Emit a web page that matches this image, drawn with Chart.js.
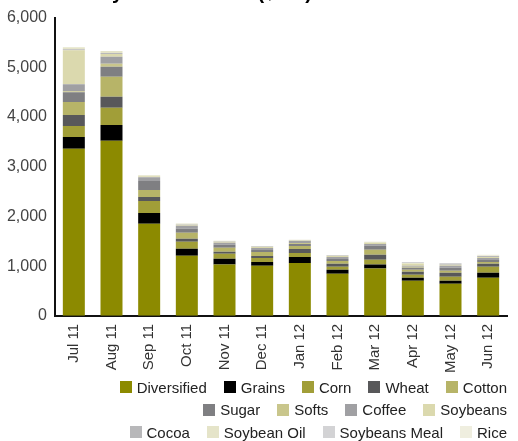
<!DOCTYPE html>
<html>
<head>
<meta charset="utf-8">
<script src="https://cdn.jsdelivr.net/npm/chart.js@4"></script>
<style>
  html, body { margin: 0; padding: 0; background: #fff; }
  #wrap { position: relative; width: 518px; height: 441px; }
  #legend { position: absolute; right: 11px; top: 376px; width: 500px;
            font: 15px 'Liberation Sans', Arial, sans-serif; color: #222; }
  .row { display: flex; justify-content: flex-end; height: 22.5px; align-items: center; }
  .item { display: flex; align-items: center; margin-left: 17px; white-space: nowrap; }
  .box { width: 12px; height: 12px; margin-right: 5px; }
</style>
</head>
<body>
<div id="wrap">
  <canvas id="chart" width="518" height="441"></canvas>
  <div id="legend"></div>
</div>
<script>
const months = ['Jul 11', 'Aug 11', 'Sep 11', 'Oct 11', 'Nov 11', 'Dec 11', 'Jan 12', 'Feb 12', 'Mar 12', 'Apr 12', 'May 12', 'Jun 12'];

const diversified  = [3360, 3520, 1850, 1210, 1030, 1005, 1065, 845, 950, 705, 645, 765];
const grains       = [240, 320, 220, 140, 120, 80, 120, 80, 80, 60, 60, 100];
const corn         = [220, 345, 240, 140, 100, 80, 80, 60, 100, 60, 80, 120];
const wheat        = [220, 220, 80, 60, 40, 40, 80, 60, 100, 60, 80, 60];
const cotton       = [260, 405, 140, 120, 80, 80, 60, 60, 100, 40, 40, 40];
const sugar        = [200, 200, 180, 80, 60, 40, 40, 40, 80, 40, 60, 40];
const softs        = [20, 60, 0, 0, 0, 0, 20, 0, 0, 20, 0, 0];
const coffee       = [140, 140, 80, 60, 40, 40, 40, 40, 35, 20, 40, 40];
const soybeans     = [685, 60, 20, 20, 20, 20, 10, 20, 25, 40, 20, 20];
const cocoa        = [20, 20, 0, 10, 10, 10, 10, 10, 0, 0, 20, 20];
const soybeanOil   = [40, 40, 20, 15, 10, 10, 5, 10, 20, 20, 0, 10];
const soybeansMeal = [0, 0, 0, 0, 0, 0, 0, 0, 0, 20, 20, 0];
const rice         = [0, 0, 0, 0, 0, 0, 0, 0, 0, 0, 0, 15];

const seriesNames = ['Diversified', 'Grains', 'Corn', 'Wheat', 'Cotton', 'Sugar', 'Softs', 'Coffee',
                     'Soybeans', 'Cocoa', 'Soybean Oil', 'Soybeans Meal', 'Rice'];
const seriesData = [diversified, grains, corn, wheat, cotton, sugar, softs, coffee,
                    soybeans, cocoa, soybeanOil, soybeansMeal, rice];
const seriesColors = ['#8c8a00', '#000000', '#a19e38', '#58585a', '#b7b468', '#7f7f82', '#c9c68c',
                      '#a0a0a3', '#dbd9ae', '#b8b8ba', '#e5e4c9', '#d3d3d5', '#efeedf'];

// legend rows as in the picture
const legendRows = [[0, 1, 2, 3, 4], [5, 6, 7, 8], [9, 10, 11, 12]];

const FONT = "'Liberation Sans', Arial, sans-serif";

// clipped title at the very top of the picture
const titlePlugin = {
  id: 'clippedTitle',
  afterDraw(chart) {
    const c = chart.ctx;
    c.save();
    c.font = 'bold 20px ' + FONT;
    c.fillStyle = '#000';
    c.textBaseline = 'alphabetic';
    c.fillText('Commodity Index Assets ($mn)', 13, -1);
    c.restore();
  }
};

const datasets = seriesNames.map((name, i) => ({
  label: name,
  data: seriesData[i],
  backgroundColor: seriesColors[i],
  borderWidth: 0,
  barPercentage: 0.584,
  categoryPercentage: 1.0
}));

new Chart(document.getElementById('chart').getContext('2d'), {
  type: 'bar',
  data: { labels: months, datasets: datasets },
  options: {
    responsive: false,
    animation: false,
    layout: { padding: { top: 8, right: 11, bottom: 60, left: 0 } },
    plugins: {
      legend: { display: false },
      tooltip: { enabled: false }
    },
    scales: {
      x: {
        stacked: true,
        grid: { display: false, drawTicks: false },
        border: { display: true, color: '#111', width: 2 },
        ticks: {
          color: '#333',
          font: { family: FONT, size: 15 },
          minRotation: 90,
          maxRotation: 90,
          autoSkip: false,
          padding: 8
        }
      },
      y: {
        stacked: true,
        min: 0,
        max: 6000,
        grid: { display: false, drawTicks: false },
        border: { display: true, color: '#111', width: 2 },
        afterFit: scale => { scale.width = 55; },
        ticks: {
          stepSize: 1000,
          color: '#444',
          font: { family: FONT, size: 16 },
          padding: 8,
          callback: v => v.toLocaleString('en-US')
        }
      }
    }
  },
  plugins: [titlePlugin]
});

// legend
const legendEl = document.getElementById('legend');
legendRows.forEach(row => {
  const r = document.createElement('div');
  r.className = 'row';
  row.forEach(i => {
    const it = document.createElement('span');
    it.className = 'item';
    const b = document.createElement('span');
    b.className = 'box';
    b.style.background = seriesColors[i];
    it.appendChild(b);
    it.appendChild(document.createTextNode(seriesNames[i]));
    r.appendChild(it);
  });
  legendEl.appendChild(r);
});
</script>
</body>
</html>
